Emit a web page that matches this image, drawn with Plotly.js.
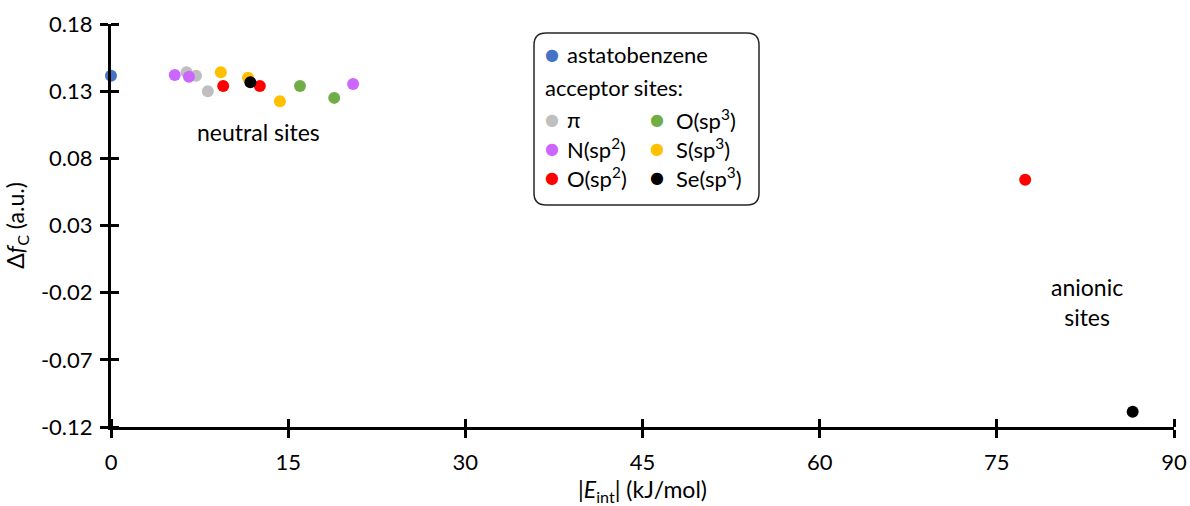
<!DOCTYPE html>
<html>
<head>
<meta charset="utf-8">
<script src="https://cdn.plot.ly/plotly-3.0.1.min.js"></script>
<style>html,body{margin:0;padding:0;background:#fff;}#chart{width:1190px;height:506px;}</style>
</head>
<body>
<div id="chart"></div>
<script>
// ---- data ----
const astatoX = [0];
const astatoY = [0.1415];
const piX = [6.4, 7.2, 8.2];
const piY = [0.1440, 0.1415, 0.1300];
const nsp2X = [5.4, 6.6, 20.5];
const nsp2Y = [0.1420, 0.1408, 0.1354];
const osp2X = [9.5, 12.6, 77.4];
const osp2Y = [0.1339, 0.1339, 0.0640];
const osp3X = [16.0, 18.9];
const osp3Y = [0.1339, 0.1250];
const ssp3X = [9.3, 11.6, 14.3];
const ssp3Y = [0.1440, 0.1400, 0.1225];
const sesp3X = [11.8, 86.5];
const sesp3Y = [0.1366, -0.1087];

const xTickVals = [0, 15, 30, 45, 60, 75, 90];
const xTickText = ["0", "15", "30", "45", "60", "75", "90"];
const yTickVals = [-0.12, -0.07, -0.02, 0.03, 0.08, 0.13, 0.18];
const yTickText = ["-0.12", "-0.07", "-0.02", "0.03", "0.08", "0.13", "0.18"];

const seriesNames = ["astatobenzene", "π", "N(sp<sup>2</sup>)", "O(sp<sup>2</sup>)", "O(sp<sup>3</sup>)", "S(sp<sup>3</sup>)", "Se(sp<sup>3</sup>)"];
const seriesColors = ["#4472C4", "#BFBFBF", "#CC66FF", "#FF0000", "#70AD47", "#FFC000", "#000000"];

// ---- build ----
const FONT = "Lato, 'Open Sans', sans-serif";
const xs = [astatoX, piX, nsp2X, osp2X, osp3X, ssp3X, sesp3X];
const ys = [astatoY, piY, nsp2Y, osp2Y, osp3Y, ssp3Y, sesp3Y];
const order = [1, 2, 3, 4, 5, 0, 6];
const traces = order.map(i => ({
  type: "scatter", mode: "markers", x: xs[i], y: ys[i],
  name: seriesNames[i], showlegend: false,
  marker: {color: seriesColors[i], size: 12, line: {width: 0}},
  cliponaxis: false, hoverinfo: "skip"
}));

// plot area geometry (px) used to place legend annotations in paper coords
const L = 111, R = 1174, T = 24, B = 427;
const px = v => (v - L) / (R - L);
const py = v => (B - v) / (B - T);

const LEGF = 22;
const annotations = [];
function legendItem(bx, tx, y, colorIdx, text) {
  annotations.push({xref: "paper", yref: "paper", x: px(bx), y: py(y), xanchor: "center", yanchor: "middle",
    text: "●", showarrow: false, font: {family: "DejaVu Sans", size: 16, color: seriesColors[colorIdx]}});
  annotations.push({xref: "paper", yref: "paper", x: px(tx), y: py(y), xanchor: "left", yanchor: "middle",
    text: text, showarrow: false, font: {family: FONT, size: LEGF, color: "#000"}});
}
legendItem(552, 565, 54, 0, seriesNames[0]);
annotations.push({xref: "paper", yref: "paper", x: px(543), y: py(87), xanchor: "left", yanchor: "middle",
  text: "acceptor sites:", showarrow: false, font: {family: FONT, size: LEGF, color: "#000"}});
legendItem(552, 565, 119, 1, seriesNames[1]);
legendItem(552, 565, 148, 2, seriesNames[2]);
legendItem(552, 565, 177, 3, seriesNames[3]);
legendItem(657, 674, 119, 4, seriesNames[4]);
legendItem(657, 674, 148, 5, seriesNames[5]);
legendItem(657, 674, 177, 6, seriesNames[6]);

annotations.push({xref: "x", yref: "y", x: 12.5, y: 0.0996, text: "neutral sites", showarrow: false,
  xanchor: "center", yanchor: "middle", font: {family: FONT, size: 23, color: "#000"}});
annotations.push({xref: "x", yref: "y", x: 82.6, y: -0.027, text: "anionic<br>sites", showarrow: false,
  xanchor: "center", yanchor: "middle", font: {family: FONT, size: 23, color: "#000"}});

// rounded legend frame
const x0 = px(534), x1 = px(759), y0 = py(205), y1 = py(33);
const rx = 12 / (R - L), ry = 12 / (B - T);
const frame = `M ${x0 + rx} ${y1} L ${x1 - rx} ${y1} Q ${x1} ${y1} ${x1} ${y1 - ry} L ${x1} ${y0 + ry} Q ${x1} ${y0} ${x1 - rx} ${y0} L ${x0 + rx} ${y0} Q ${x0} ${y0} ${x0} ${y0 + ry} L ${x0} ${y1 - ry} Q ${x0} ${y1} ${x0 + rx} ${y1} Z`;

const axisCommon = {showgrid: false, zeroline: false, showline: true, linecolor: "#000", linewidth: 3,
  tickcolor: "#000", tickwidth: 2.5, ticklen: 8, tickmode: "array", fixedrange: true, ticks: "outside"};
const minorCommon = {ticks: "inside", ticklen: 8, tickwidth: 2.5, tickcolor: "#000", showgrid: false, tickmode: "array"};

const layout = {
  width: 1190, height: 506,
  margin: {l: L, r: 1190 - R, t: T, b: 506 - B},
  paper_bgcolor: "#fff", plot_bgcolor: "#fff",
  font: {family: FONT, size: 22, color: "#000"},
  showlegend: false,
  xaxis: Object.assign({}, axisCommon, {range: [0, 90], tickvals: xTickVals, ticktext: xTickText,
    minor: Object.assign({}, minorCommon, {tickvals: xTickVals}),
    tickfont: {family: FONT, size: 22}, ticklabelstandoff: 6,
    title: {text: "|<i>E</i><sub>int</sub>| (kJ/mol)", font: {family: FONT, size: 23}, standoff: 10}}),
  yaxis: Object.assign({}, axisCommon, {range: [-0.12, 0.18], tickvals: yTickVals, ticktext: yTickText,
    minor: Object.assign({}, minorCommon, {tickvals: yTickVals}),
    tickfont: {family: FONT, size: 22}, ticklabelstandoff: 3,
    title: {text: "Δ<i>f</i><sub>C</sub> (a.u.)", font: {family: FONT, size: 23}, standoff: 10}}),
  shapes: [{type: "path", xref: "paper", yref: "paper", path: frame, line: {color: "#262626", width: 1.5}, fillcolor: "#fff", layer: "below"}],
  annotations: annotations
};

Plotly.newPlot("chart", traces, layout, {displayModeBar: false});
</script>
</body>
</html>
